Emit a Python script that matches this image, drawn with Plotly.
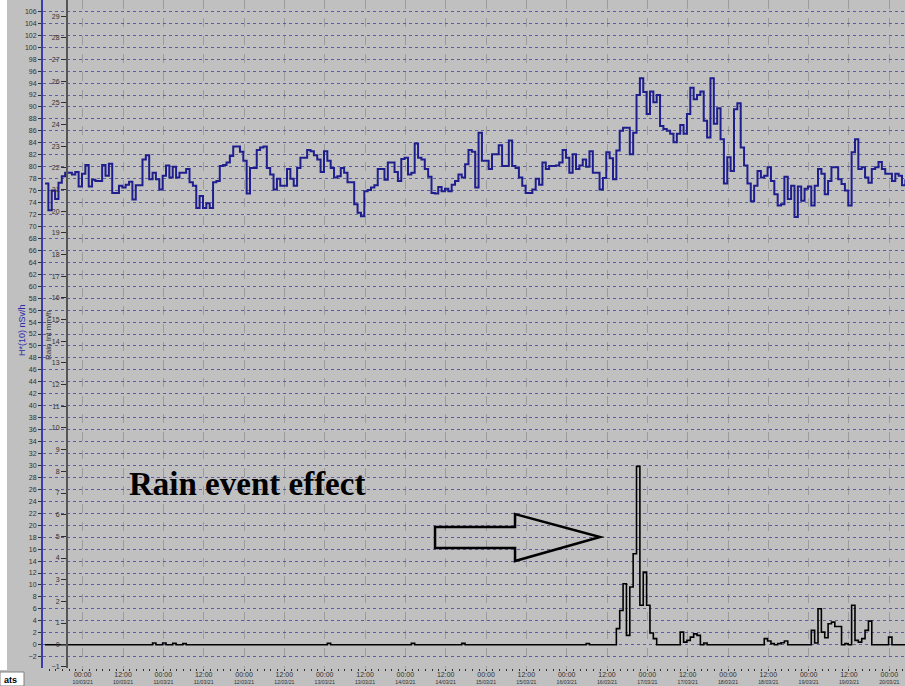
import plotly.graph_objects as go
from datetime import datetime, timedelta

# ---------------- data ----------------
start_time = datetime(2021, 3, 9, 12, 47)   # hourly samples

dose_rate = [
    77.2, 72.7, 76.0, 74.6, 77.3,
    78.4, 79.0, 79.0, 78.7, 79.1, 76.7, 78.8, 80.3, 76.7, 77.8,
    77.6, 77.6, 80.3, 78.5, 80.5, 75.6, 75.6, 76.8, 76.5, 77.0,
    77.5, 74.5, 76.9, 76.9, 81.2, 81.9, 77.9, 79.0, 77.9, 76.2,
    78.5, 80.2, 78.2, 80.0, 78.2, 79.0, 79.0, 79.6, 77.4, 76.8,
    73.1, 75.1, 73.1, 73.9, 73.1, 77.4, 77.6, 80.1, 80.3, 80.7,
    81.8, 83.4, 83.4, 82.5, 81.0, 75.5, 79.8, 79.8, 82.8, 83.2,
    83.4, 79.8, 78.7, 76.2, 78.0, 76.8, 76.8, 79.6, 78.0, 76.8,
    79.8, 81.5, 81.5, 82.8, 82.6, 81.9, 81.2, 79.1, 82.6, 81.0,
    79.8, 78.2, 78.4, 79.8, 79.0, 77.4, 77.4, 73.7, 72.3, 71.7,
    75.9, 76.1, 76.5, 76.9, 79.6, 79.6, 77.8, 80.7, 80.7, 79.1,
    77.6, 81.3, 81.5, 78.7, 79.0, 83.9, 81.5, 81.2, 79.6, 78.3,
    75.6, 75.5, 76.6, 75.9, 76.3, 75.9, 77.0, 77.6, 78.7, 78.2,
    80.4, 82.8, 82.5, 76.5, 85.7,
    81.0, 81.0, 79.6, 82.1, 82.1, 83.6, 80.1, 80.1, 84.4, 80.1,
    79.8, 78.2, 76.8, 75.6, 75.6, 76.2, 78.0, 77.0, 80.7, 79.6,
    80.1, 80.1, 80.2, 80.7, 82.8, 81.5, 79.0, 82.1, 79.6, 80.2,
    81.2, 80.0, 82.6, 79.0, 79.0,
    76.2, 78.1, 82.4, 81.4, 77.9, 82.7, 86.0, 86.5, 86.5, 82.1,
    85.7, 92.0, 94.8, 92.5, 88.8, 92.6, 90.8, 92.0, 86.8, 86.3,
    86.0, 85.5, 84.1, 85.5, 87.0, 85.5, 88.8, 93.2, 91.3, 92.0,
    92.6, 87.7, 84.9, 94.8, 87.2, 89.8, 84.6, 77.2, 81.6, 79.3,
    89.6, 90.6, 83.2, 80.2, 77.2, 74.2, 76.8, 79.3, 78.2, 78.5,
    79.9, 77.6, 75.4, 73.5, 73.7, 78.3, 74.6, 76.8, 71.6, 76.7,
    74.3, 76.3, 76.7, 73.5, 76.8, 79.6, 78.8, 75.4, 77.6, 79.9,
    79.9, 77.9, 77.1, 76.0, 73.5, 82.4, 84.6, 79.6, 79.9, 78.2,
    77.3, 79.6, 79.9, 80.8, 79.6, 78.8, 78.8, 77.6, 78.8, 78.5,
    76.9, 77.9,
]

rain_intensity = [
    0, 0, 0, 0, 0, 0, 0, 0, 0, 0, 0, 0, 0, 0, 0, 0, 0, 0, 0, 0,
    0, 0, 0, 0, 0, 0, 0, 0, 0, 0, 0, 0, 0.08, 0, 0, 0.08, 0, 0, 0.06, 0,
    0, 0.05, 0, 0, 0, 0, 0, 0, 0, 0, 0, 0, 0, 0, 0, 0, 0, 0, 0, 0,
    0, 0, 0, 0, 0, 0, 0, 0, 0, 0, 0, 0, 0, 0, 0, 0, 0, 0, 0, 0,
    0, 0, 0, 0, 0.06, 0, 0, 0, 0, 0, 0, 0, 0, 0, 0, 0, 0, 0, 0, 0,
    0, 0, 0, 0, 0, 0, 0, 0, 0, 0.06, 0, 0, 0, 0, 0, 0, 0, 0, 0, 0,
    0, 0, 0, 0, 0.06, 0, 0, 0, 0, 0, 0, 0, 0, 0, 0, 0, 0, 0, 0, 0,
    0, 0, 0, 0, 0, 0, 0, 0, 0, 0, 0, 0, 0, 0, 0, 0, 0, 0, 0, 0,
    0, 0.05, 0, 0, 0, 0, 0, 0, 0, 0, 0.74, 1.58, 2.81, 0.43, 2.66, 4.2, 8.23, 1.82, 3.35, 1.82,
    0.54, 0.28, 0, 0, 0, 0, 0, 0, 0, 0.58, 0.12, 0.2, 0.35, 0.5, 0.43, 0, 0.08, 0, 0, 0,
    0, 0, 0, 0, 0, 0, 0, 0, 0, 0, 0, 0, 0, 0, 0.28, 0.17, 0.05, 0, 0.05, 0.09,
    0.17, 0, 0, 0, 0, 0, 0, 0, 0.66, 0.08, 1.66, 0.58, 0.32, 0.97, 1.04, 0.84, 0.84, 0, 0.05, 0,
    1.82, 0.2, 0.12, 0.28, 0.66, 1.09, 0, 0, 0, 0, 0, 0.35, 0, 0, 0, 0, 0,
]

dose_ticks = list(range(-2, 107, 2))
rain_ticks = list(range(-1, 30))
time_ticks = [datetime(2021, 3, 10) + timedelta(hours=12 * i) for i in range(21)]
time_labels = [f"<span style='font-size:7px'>{t:%H:%M}</span><br>{t:%d/%m/%y}" for t in time_ticks]

times = [start_time + timedelta(hours=i) for i in range(len(dose_rate))]
rain_times = [start_time + timedelta(hours=i) for i in range(len(rain_intensity))]

# ---------------- figure ----------------
W, H = 905, 686
L, R, T, B = 43, 0, 0, 18
pw, ph = W - L - R, H - T - B


def px(x):
    return (x - L) / pw


def py(y):
    return (H - B - y) / ph


fig = go.Figure()
fig.add_trace(go.Scatter(x=times, y=dose_rate, mode="lines",
                         line=dict(shape="hv", color="#1e1e8e", width=2),
                         yaxis="y", showlegend=False, hoverinfo="skip"))
fig.add_trace(go.Scatter(x=rain_times, y=rain_intensity, mode="lines",
                         line=dict(shape="hv", color="#000000", width=1.6),
                         yaxis="y2", showlegend=False, hoverinfo="skip"))

grey = "#c0c0c0"
tickfont = dict(family="Liberation Sans", size=7, color="#303030")

fig.update_layout(
    width=W, height=H,
    margin=dict(l=L, r=R, t=T, b=B, pad=0, autoexpand=False),
    paper_bgcolor=grey, plot_bgcolor=grey,
    xaxis=dict(
        range=[datetime(2021, 3, 9, 12, 11), datetime(2021, 3, 20, 4, 40)],
        tickmode="array", tickvals=time_ticks, ticktext=time_labels,
        tickfont=dict(family="Liberation Sans", size=5.2, color="#303030"),
        ticks="outside", ticklen=2, tickcolor="#303030",
        showgrid=True, gridcolor="#9c9c9c", griddash="dash", gridwidth=1,
        showline=False, zeroline=False, automargin=False,
        minor=dict(tickmode="linear", tick0="2021-03-10", dtick=7200000,
                   ticks="outside", ticklen=2, tickcolor="#303030", showgrid=False),
    ),
    yaxis=dict(
        range=[-3.9, 107.9], tickmode="array", tickvals=dose_ticks,
        tickfont=tickfont, ticks="outside", ticklen=3, tickcolor="#303030",
        showgrid=True, gridcolor="rgba(50,50,150,0.7)", griddash="dot", gridwidth=1,
        showline=True, linecolor="#3c3cae", linewidth=2, zeroline=False, automargin=False,
    ),
    yaxis2=dict(
        range=[-3.9 / 3.627, 107.9 / 3.627], tickmode="array", tickvals=rain_ticks,
        overlaying="y", anchor="free", side="left", position=px(67),
        tickfont=tickfont, ticks="outside", ticklen=5, tickcolor="#303030",
        showgrid=False, showline=True, linecolor="#555555", linewidth=2, zeroline=False,
        automargin=False,
    ),
)

# white strip on the far left and the cut-off tab at bottom left
fig.add_shape(type="rect", xref="paper", yref="paper", x0=px(0), x1=px(7), y0=py(670), y1=py(0),
              fillcolor="white", line=dict(width=0), layer="above")
fig.add_shape(type="rect", xref="paper", yref="paper", x0=px(0), x1=px(24), y0=py(686), y1=py(672),
              fillcolor="white", line=dict(color="#808080", width=1), layer="above")
fig.add_annotation(text="<b>ats</b>", xref="paper", yref="paper", x=px(2), y=py(680),
                   xanchor="left", yanchor="middle", showarrow=False,
                   font=dict(family="Liberation Sans", size=9, color="#000"))

# axis titles
fig.add_annotation(text="H*(10) nSv/h", xref="paper", yref="paper", x=px(22), y=py(330),
                   textangle=-90, showarrow=False, xanchor="center", yanchor="middle",
                   font=dict(family="Liberation Sans", size=9, color="#2a2aa8"))
fig.add_annotation(text="Rain Int mm/h", xref="paper", yref="paper", x=px(48), y=py(335),
                   textangle=-90, showarrow=False, xanchor="center", yanchor="middle",
                   font=dict(family="Liberation Sans", size=8, color="#303030"))

# rain event annotation text and block arrow
fig.add_annotation(text="<b>Rain event effect</b>", xref="paper", yref="paper",
                   x=px(127), y=py(484), xanchor="left", yanchor="middle", showarrow=False,
                   font=dict(family="Liberation Serif", size=33, color="#000000"))
pts = [(435, 527), (515, 527), (515, 514), (600, 537), (515, 561), (515, 548), (435, 548)]
path = "M " + " L ".join(f"{px(x):.4f},{py(y):.4f}" for x, y in pts) + " Z"
fig.add_shape(type="path", xref="paper", yref="paper", path=path,
              line=dict(color="#000000", width=2.5), fillcolor="rgba(0,0,0,0)")

fig.write_html("out.html", config={"displayModeBar": False},
               post_script="document.body.style.margin='0';document.body.style.padding='0';")
